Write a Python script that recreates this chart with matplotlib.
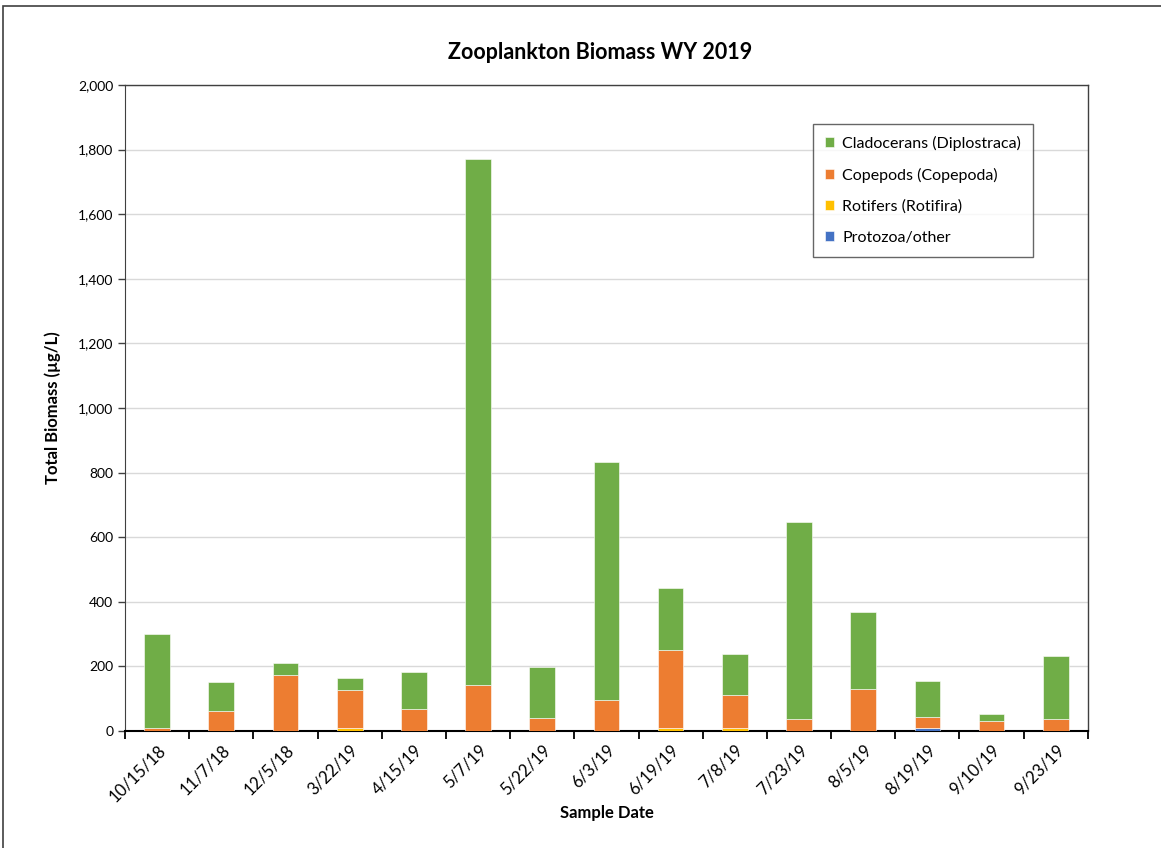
import numpy as np
import matplotlib.pyplot as plt
from matplotlib.ticker import FuncFormatter, MultipleLocator
from matplotlib.patches import Rectangle

plt.rcParams['font.family'] = ['Lato', 'DejaVu Sans']

dates = ['10/15/18', '11/7/18', '12/5/18', '3/22/19', '4/15/19', '5/7/19', '5/22/19',
         '6/3/19', '6/19/19', '7/8/19', '7/23/19', '8/5/19', '8/19/19', '9/10/19', '9/23/19']

# biomass by group (ug/L)
protozoa = [0, 0, 0, 0, 0, 0, 0, 0, 0, 0, 0, 0, 8, 0, 0]
rotifers = [0, 0, 0, 10, 0, 0, 0, 0, 10, 10, 0, 0, 0, 0, 0]
copepods = [8, 61, 172, 116, 68, 142, 41, 96, 241, 101, 37, 129, 36, 32, 37]
cladocerans = [292, 91, 39, 37, 114, 1629, 158, 737, 192, 126, 610, 239, 110, 21, 195]

series = [
    ('Protozoa/other', protozoa, '#4472C4'),
    ('Rotifers (Rotifira)', rotifers, '#FFC000'),
    ('Copepods (Copepoda)', copepods, '#ED7D31'),
    ('Cladocerans (Diplostraca)', cladocerans, '#70AD47'),
]

fig = plt.figure(figsize=(11.61, 8.48), dpi=100)
ax = fig.add_axes([0.1077, 0.138, 0.8293, 0.7618])

x = np.arange(len(dates))
bottom = np.zeros(len(dates))
handles = {}
for name, vals, color in series:
    vals = np.array(vals, dtype=float)
    h = ax.bar(x, vals, width=0.4, bottom=bottom, color=color,
               edgecolor='white', linewidth=0.4, zorder=3, label=name)
    handles[name] = h
    bottom += vals

ax.set_xlim(-0.5, len(dates) - 0.5)
ax.set_ylim(0, 2000)
ax.yaxis.set_major_locator(MultipleLocator(200))
ax.yaxis.set_major_formatter(FuncFormatter(lambda v, p: f'{int(v):,}'))
ax.grid(axis='y', color='#D9D9D9', linewidth=1, zorder=0)

ax.set_xticks(x)
ax.set_xticklabels(dates, rotation=45, ha='right', rotation_mode='anchor', fontsize=12)
ax.tick_params(axis='x', length=0, pad=8)
ax.set_xticks(np.arange(len(dates) + 1) - 0.5, minor=True)
ax.tick_params(axis='x', which='minor', length=6, width=1.3, color='black')
ax.tick_params(axis='y', labelsize=10, length=5, width=1, color='#404040')

for side in ['top', 'right']:
    ax.spines[side].set_color('#404040')
    ax.spines[side].set_linewidth(1)
ax.spines['left'].set_color('#404040')
ax.spines['bottom'].set_color('black')
ax.spines['bottom'].set_linewidth(1.5)

ax.set_ylabel('Total Biomass (µg/L)', fontsize=12, fontweight='bold', labelpad=12)
ax.set_xlabel('Sample Date', fontsize=12, fontweight='bold', labelpad=0)
fig.text(0.517, 0.938, 'Zooplankton Biomass WY 2019', ha='center', va='center',
         fontsize=15.5, fontweight='bold')

order = ['Cladocerans (Diplostraca)', 'Copepods (Copepoda)', 'Rotifers (Rotifira)', 'Protozoa/other']
leg = ax.legend([handles[n] for n in order], order, loc='upper left',
                bbox_to_anchor=(0.7144, 0.9396), borderaxespad=0, fontsize=11.5,
                frameon=True, fancybox=False, edgecolor='#404040',
                handlelength=0.6, handleheight=0.6,
                labelspacing=1.05, borderpad=0.75, handletextpad=0.5)
leg.get_frame().set_linewidth(1)

# outer chart border
fig.patches.append(Rectangle((3 / 1161, -0.1), 1.2, 1 - 6 / 848 + 0.1,
                             transform=fig.transFigure, fill=False,
                             edgecolor='#404040', linewidth=1.2))

fig.savefig('out.png', dpi=100, facecolor='white')
